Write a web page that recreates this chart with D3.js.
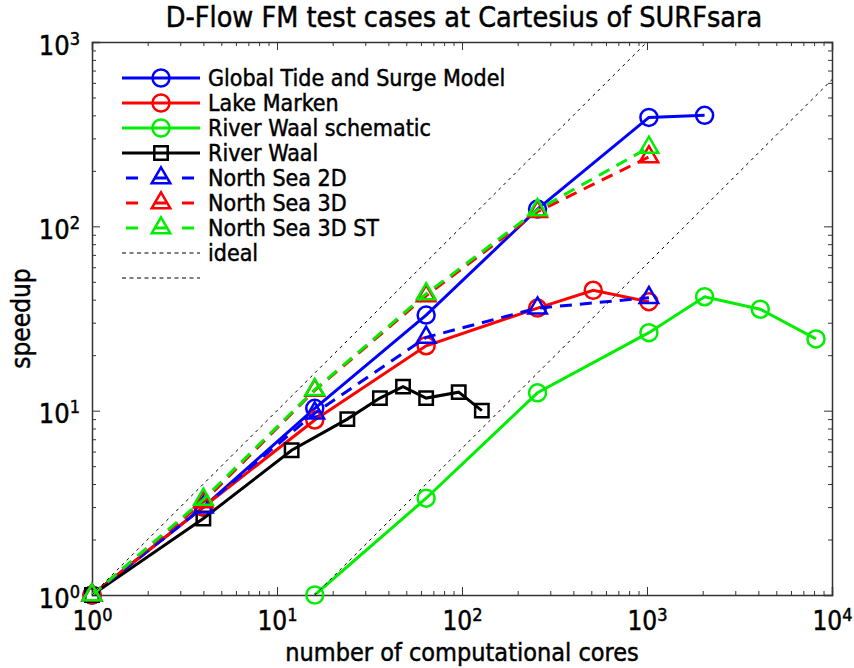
<!DOCTYPE html>
<meta charset="utf-8">
<style>
body { margin: 0; background: #fff; }
text { font-family: "Liberation Sans Narrow", "DejaVu Sans Condensed", sans-serif; fill: #000; stroke: #000; stroke-width: 0.45; }
.axis path { stroke: #333; stroke-width: 1.5; }
.axis line { stroke: #333; stroke-width: 1; }
</style>
<body></body>
<script src="https://d3js.org/d3.v7.min.js"></script>
<script>
// series data: cores (x) and speedup (y)
var gtsmCores  = [1, 4, 16, 64, 256, 1024, 2048];
var gtsmSpeed  = [1, 3.0, 10.3, 33, 124, 390, 400];
var markenCores = [1, 4, 16, 64, 256, 512, 1024];
var markenSpeed = [1, 3.0, 8.9, 22.5, 36, 45, 39];
var schemCores = [16, 64, 256, 1024, 2048, 4096, 8192];
var schemSpeed = [1, 3.35, 12.5, 26.5, 41.5, 35.5, 24.5];
var waalCores  = [1, 4, 12, 24, 36, 48, 64, 96, 128];
var waalSpeed  = [1, 2.6, 6.1, 9.0, 11.7, 13.5, 11.7, 12.6, 10.0];
var ns2dCores  = [1, 4, 16, 64, 256, 1024];
var ns2dSpeed  = [1, 3.0, 9.7, 25, 36, 41];
var ns3dCores  = [1, 4, 16, 64, 256, 1024];
var ns3dSpeed  = [1, 3.2, 12.9, 42, 120, 238];
var ns3dstCores = [1, 4, 16, 64, 256, 1024];
var ns3dstSpeed = [1, 3.3, 13, 43, 123, 268];
var ideal1Cores = [1, 1000];
var ideal1Speed = [1, 1000];
var ideal2Cores = [16, 10000];
var ideal2Speed = [1, 625];

var xDecades = [1, 10, 100, 1000, 10000];
var yDecades = [1, 10, 100, 1000];

var series = [
  {name: "Global Tide and Surge Model", xs: gtsmCores, ys: gtsmSpeed, color: "#0000ff", dash: null, mark: "circle"},
  {name: "Lake Marken", xs: markenCores, ys: markenSpeed, color: "#ff0000", dash: null, mark: "circle"},
  {name: "River Waal schematic", xs: schemCores, ys: schemSpeed, color: "#00ee00", dash: null, mark: "circle"},
  {name: "River Waal", xs: waalCores, ys: waalSpeed, color: "#000000", dash: null, mark: "square"},
  {name: "North Sea 2D", xs: ns2dCores, ys: ns2dSpeed, color: "#0000ff", dash: "12,8", mark: "triangle"},
  {name: "North Sea 3D", xs: ns3dCores, ys: ns3dSpeed, color: "#ff0000", dash: "12,8", mark: "triangle"},
  {name: "North Sea 3D ST", xs: ns3dstCores, ys: ns3dstSpeed, color: "#00ee00", dash: "12,8", mark: "triangle"},
  {name: "ideal", xs: ideal1Cores, ys: ideal1Speed, color: "#000000", dash: "3,4", mark: null, thin: true},
  {name: "", xs: ideal2Cores, ys: ideal2Speed, color: "#000000", dash: "3,4", mark: null, thin: true}
];

var width = 854, height = 668;
var pLeft = 92, pRight = 832, pTop = 42, pBottom = 595;

var svg = d3.select("body").append("svg")
  .attr("width", width).attr("height", height);

var x = d3.scaleLog().domain([1, 1e4]).range([pLeft, pRight]);
var y = d3.scaleLog().domain([1, 1e3]).range([pBottom, pTop]);

var xMinor = x.ticks().filter(v => xDecades.indexOf(v) < 0);
var yMinor = y.ticks().filter(v => yDecades.indexOf(v) < 0);

function supLabels(g) {
  g.selectAll(".tick text").each(function(d) {
    var t = d3.select(this).text("");
    t.append("tspan").text("10");
    t.append("tspan").attr("dy", "-0.55em").style("font-size", "18px")
      .text(Math.round(Math.log10(d)));
  });
}

// bottom axis
var gx = svg.append("g").attr("class", "axis").attr("transform", `translate(0,${pBottom})`);
gx.call(d3.axisBottom(x).tickValues(xDecades).tickSize(-8).tickPadding(17).tickFormat(d => d));
gx.selectAll(".tick text").style("font-size", "26px");
supLabels(gx);
svg.append("g").attr("class", "axis").attr("transform", `translate(0,${pBottom})`)
  .call(d3.axisBottom(x).tickValues(xMinor).tickSize(-4).tickFormat(""))
  .select(".domain").remove();
// top axis
svg.append("g").attr("class", "axis").attr("transform", `translate(0,${pTop})`)
  .call(d3.axisTop(x).tickValues(xDecades).tickSize(-8).tickFormat(""));
svg.append("g").attr("class", "axis").attr("transform", `translate(0,${pTop})`)
  .call(d3.axisTop(x).tickValues(xMinor).tickSize(-4).tickFormat(""))
  .select(".domain").remove();
// left axis
var gy = svg.append("g").attr("class", "axis").attr("transform", `translate(${pLeft},0)`);
gy.call(d3.axisLeft(y).tickValues(yDecades).tickSize(-8).tickPadding(12).tickFormat(d => d));
gy.selectAll(".tick text").style("font-size", "27px").attr("dy", "0.45em");
supLabels(gy);
svg.append("g").attr("class", "axis").attr("transform", `translate(${pLeft},0)`)
  .call(d3.axisLeft(y).tickValues(yMinor).tickSize(-4).tickFormat(""))
  .select(".domain").remove();
// right axis
svg.append("g").attr("class", "axis").attr("transform", `translate(${pRight},0)`)
  .call(d3.axisRight(y).tickValues(yDecades).tickSize(-8).tickFormat(""));
svg.append("g").attr("class", "axis").attr("transform", `translate(${pRight},0)`)
  .call(d3.axisRight(y).tickValues(yMinor).tickSize(-4).tickFormat(""))
  .select(".domain").remove();

svg.append("defs").append("clipPath").attr("id", "clip")
  .append("rect").attr("x", pLeft).attr("y", pTop)
  .attr("width", pRight - pLeft).attr("height", pBottom - pTop);

var line = d3.line().x(d => x(d[0])).y(d => y(d[1]));
var tri = d3.symbol().type(d3.symbolTriangle).size(150);
var sq = d3.symbol().type(d3.symbolSquare).size(180);

function drawMark(g, s, cx, cy) {
  if (s.mark === "circle") {
    g.append("circle").attr("cx", cx).attr("cy", cy).attr("r", 8.5)
      .attr("fill", "none").attr("stroke", s.color).attr("stroke-width", 2.5);
  } else if (s.mark === "square") {
    g.append("path").attr("d", sq()).attr("transform", `translate(${cx},${cy})`)
      .attr("fill", "none").attr("stroke", s.color).attr("stroke-width", 2.5);
  } else if (s.mark === "triangle") {
    g.append("path").attr("d", tri()).attr("transform", `translate(${cx},${cy})`)
      .attr("fill", "none").attr("stroke", s.color).attr("stroke-width", 2.5);
  }
}

var plot = svg.append("g");
series.forEach(function(s) {
  var pts = s.xs.map((v, i) => [v, s.ys[i]]);
  plot.append("path").datum(pts).attr("d", line)
    .attr("clip-path", "url(#clip)")
    .attr("fill", "none").attr("stroke", s.color)
    .attr("stroke-width", s.thin ? 1 : 3)
    .attr("stroke-dasharray", s.dash);
  if (s.mark) pts.forEach(p => drawMark(plot, s, x(p[0]), y(p[1])));
});

// legend
var leg = svg.append("g");
series.forEach(function(s, i) {
  var ly = 78 + i * 25;
  leg.append("line").attr("x1", 122).attr("x2", 200).attr("y1", ly).attr("y2", ly)
    .attr("stroke", s.color).attr("stroke-width", s.thin ? 1 : 3)
    .attr("stroke-dasharray", s.dash ? (s.thin ? "4,3.5" : "12,16") : null)
    .attr("stroke-dashoffset", s.dash && !s.thin ? -4 : 0);
  if (s.mark) drawMark(leg, s, 161, ly);
  leg.append("text").attr("x", 208).attr("y", ly + 8).style("font-size", "23px").text(s.name);
});

svg.append("text").attr("x", (pLeft + pRight) / 2 + 2).attr("y", 27)
  .attr("text-anchor", "middle").style("font-size", "28.5px")
  .text("D-Flow FM test cases at Cartesius of SURFsara");

svg.append("text").attr("x", (pLeft + pRight) / 2).attr("y", 661)
  .attr("text-anchor", "middle").style("font-size", "25px")
  .text("number of computational cores");

svg.append("text").attr("transform", `translate(30,${(pTop + pBottom) / 2}) rotate(-90)`)
  .attr("text-anchor", "middle").style("font-size", "26px")
  .text("speedup");
</script>
